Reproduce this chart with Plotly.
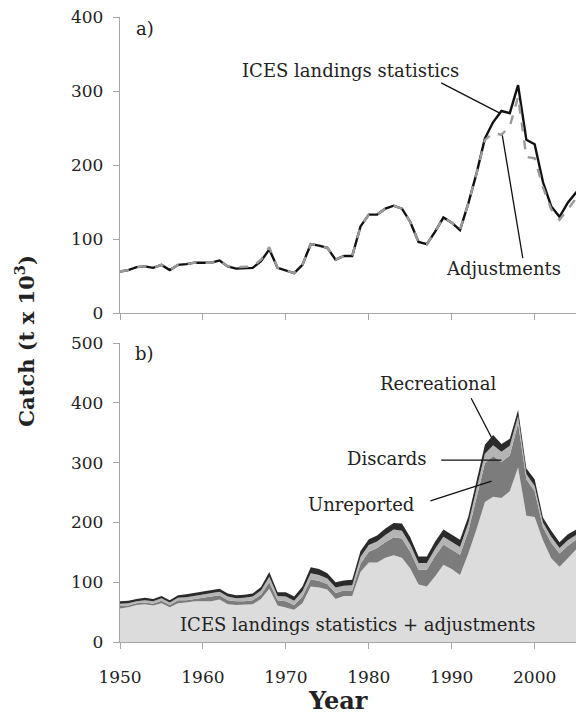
import plotly.graph_objects as go
from plotly.subplots import make_subplots

years = list(range(1950, 2007))

# a) ICES landings statistics (black) and adjusted series (grey dashed)
ices = [56, 58, 62, 63, 61, 65, 58, 65, 66, 68,
        68, 68, 71, 63, 60, 60, 61, 70, 86, 61,
        58, 54, 65, 93, 91, 88, 72, 77, 77, 117,
        133, 133, 141, 145, 141, 123, 96, 93, 110, 129,
        122, 112, 148, 189, 236, 258, 273, 270, 308, 234,
        228, 177, 144, 130, 149, 163, 164]
adjusted = [56, 58, 62, 63, 61, 65, 58, 65, 66, 68,
            68, 68, 71, 63, 62, 62, 63, 72, 89, 61,
            58, 54, 65, 93, 91, 88, 72, 77, 77, 117,
            133, 133, 141, 145, 141, 123, 96, 93, 110, 129,
            122, 112, 148, 189, 234, 243, 241, 252, 292, 211,
            209, 170, 140, 126, 140, 155, 160]

# b) components stacked on top of the adjusted landings
unreported = [4, 3, 3, 3, 3, 4, 4, 5, 4, 4,
              6, 7, 7, 7, 6, 6, 7, 7, 11, 9,
              10, 8, 11, 12, 11, 9, 10, 9, 9, 14,
              18, 24, 26, 30, 32, 28, 25, 28, 34, 34,
              33, 34, 37, 54, 65, 68, 60, 60, 74, 61,
              43, 22, 26, 22, 21, 16, 12]
discards = [4, 4, 3, 4, 4, 4, 4, 4, 5, 5,
            6, 6, 6, 6, 5, 6, 6, 7, 9, 7,
            8, 7, 9, 10, 10, 9, 9, 8, 9, 11,
            11, 11, 12, 13, 13, 12, 11, 11, 12, 13,
            13, 13, 13, 14, 16, 18, 17, 16, 12, 9,
            9, 8, 10, 9, 9, 8, 7]
recreational = [4, 4, 4, 4, 4, 4, 4, 4, 5, 5,
                5, 5, 5, 5, 5, 5, 5, 6, 8, 6,
                7, 7, 8, 10, 10, 9, 9, 9, 9, 10,
                10, 10, 11, 11, 12, 12, 11, 11, 12, 12,
                12, 12, 12, 13, 15, 17, 13, 12, 10, 9,
                11, 8, 10, 10, 10, 9, 7]

font = "DejaVu Serif"
axis_col = "#a6a6a6"
txt_col = "#222222"

fig = make_subplots(rows=2, cols=1, vertical_spacing=0.0478)
fig.update_xaxes(domain=[0, 1])
fig.layout.yaxis.domain = [0.5264, 1.0]
fig.layout.yaxis2.domain = [0.0, 0.4784]

# Panel a lines
fig.add_trace(go.Scatter(x=years, y=ices, mode="lines",
                         line=dict(color="#111111", width=2.4)), row=1, col=1)
fig.add_trace(go.Scatter(x=years, y=adjusted, mode="lines",
                         line=dict(color="#9a9a9a", width=2.4, dash="dash")), row=1, col=1)

# Panel b stacked areas
stack = [(adjusted, "#dcdcdc"), (unreported, "#7c7c7c"),
         (discards, "#b4b4b4"), (recreational, "#2b2b2b")]
for vals, col in stack:
    fig.add_trace(go.Scatter(x=years, y=vals, mode="lines", stackgroup="b",
                             line=dict(width=0, color=col), fillcolor=col),
                  row=2, col=1)

axis_style = dict(showline=True, linecolor=axis_col, linewidth=1.3,
                  ticks="outside", tickcolor=axis_col, ticklen=6, tickwidth=1.3,
                  showgrid=False, zeroline=False, automargin=False,
                  ticklabeloverflow="allow",
                  tickfont=dict(family=font, size=17, color=txt_col))

fig.update_xaxes(range=[1950, 2005.95], dtick=10, tick0=1950, **axis_style)
fig.update_xaxes(showticklabels=False, row=1, col=1)
fig.update_xaxes(ticklabelstandoff=13, row=2, col=1)
fig.update_yaxes(ticklabelstandoff=6, **axis_style)
fig.update_yaxes(range=[0, 400], dtick=100, row=1, col=1)
fig.update_yaxes(range=[0, 500], dtick=100, row=2, col=1)

ann_font = dict(family=font, size=18, color=txt_col)
annotations = [
    # panel labels
    dict(x=1953, y=385, xref="x", yref="y", text="a)", showarrow=False, font=ann_font),
    dict(x=1953, y=482, xref="x2", yref="y2", text="b)", showarrow=False, font=ann_font),
    # panel a labels
    dict(x=1977.8, y=328, xref="x", yref="y", text="ICES landings statistics",
         showarrow=False, font=ann_font),
    dict(x=1996.3, y=60, xref="x", yref="y", text="Adjustments",
         showarrow=False, font=ann_font),
    # panel b labels
    dict(x=1988.4, y=432, xref="x2", yref="y2", text="Recreational",
         showarrow=False, font=ann_font),
    dict(x=1982.2, y=307, xref="x2", yref="y2", text="Discards",
         showarrow=False, font=ann_font),
    dict(x=1979.0, y=230, xref="x2", yref="y2", text="Unreported",
         showarrow=False, font=ann_font),
    dict(x=1978.6, y=30, xref="x2", yref="y2", text="ICES landings statistics + adjustments",
         showarrow=False, font=ann_font),
    # axis titles
    dict(x=0.47, y=-0.093, xref="paper", yref="paper", text="<b>Year</b>",
         xanchor="center", yanchor="middle", showarrow=False,
         font=dict(family=font, size=24, color=txt_col)),
    dict(x=-0.205, y=0.482, xref="paper", yref="paper", text="<b>Catch (t x 10<sup>3</sup>)</b>",
         xanchor="center", yanchor="middle", textangle=-90, showarrow=False,
         font=dict(family=font, size=21, color=txt_col)),
]

# leader lines (head, tail) in data coords
leaders = [
    ("x", "y", 1995.8, 270, 1988.55, 312),
    ("x", "y", 1996.1, 240, 1998.6, 72),
    ("x2", "y2", 1994.8, 342, 1992.25, 410),
    ("x2", "y2", 1996.0, 304, 1988.55, 304),
    ("x2", "y2", 1994.8, 269, 1987.25, 235),
]
for xr, yr, x, y, ax, ay in leaders:
    annotations.append(dict(x=x, y=y, xref=xr, yref=yr, ax=ax, ay=ay,
                            axref=xr, ayref=yr, text="", showarrow=True,
                            arrowhead=0, arrowwidth=1.3, arrowcolor="#111111"))

# page body adds an 8px offset, so margins are shifted accordingly
fig.update_layout(
    width=584, height=714,
    margin=dict(l=112, r=8, t=9, b=80),
    plot_bgcolor="white", paper_bgcolor="white",
    showlegend=False,
    annotations=annotations,
)

fig.write_html("out.html")
